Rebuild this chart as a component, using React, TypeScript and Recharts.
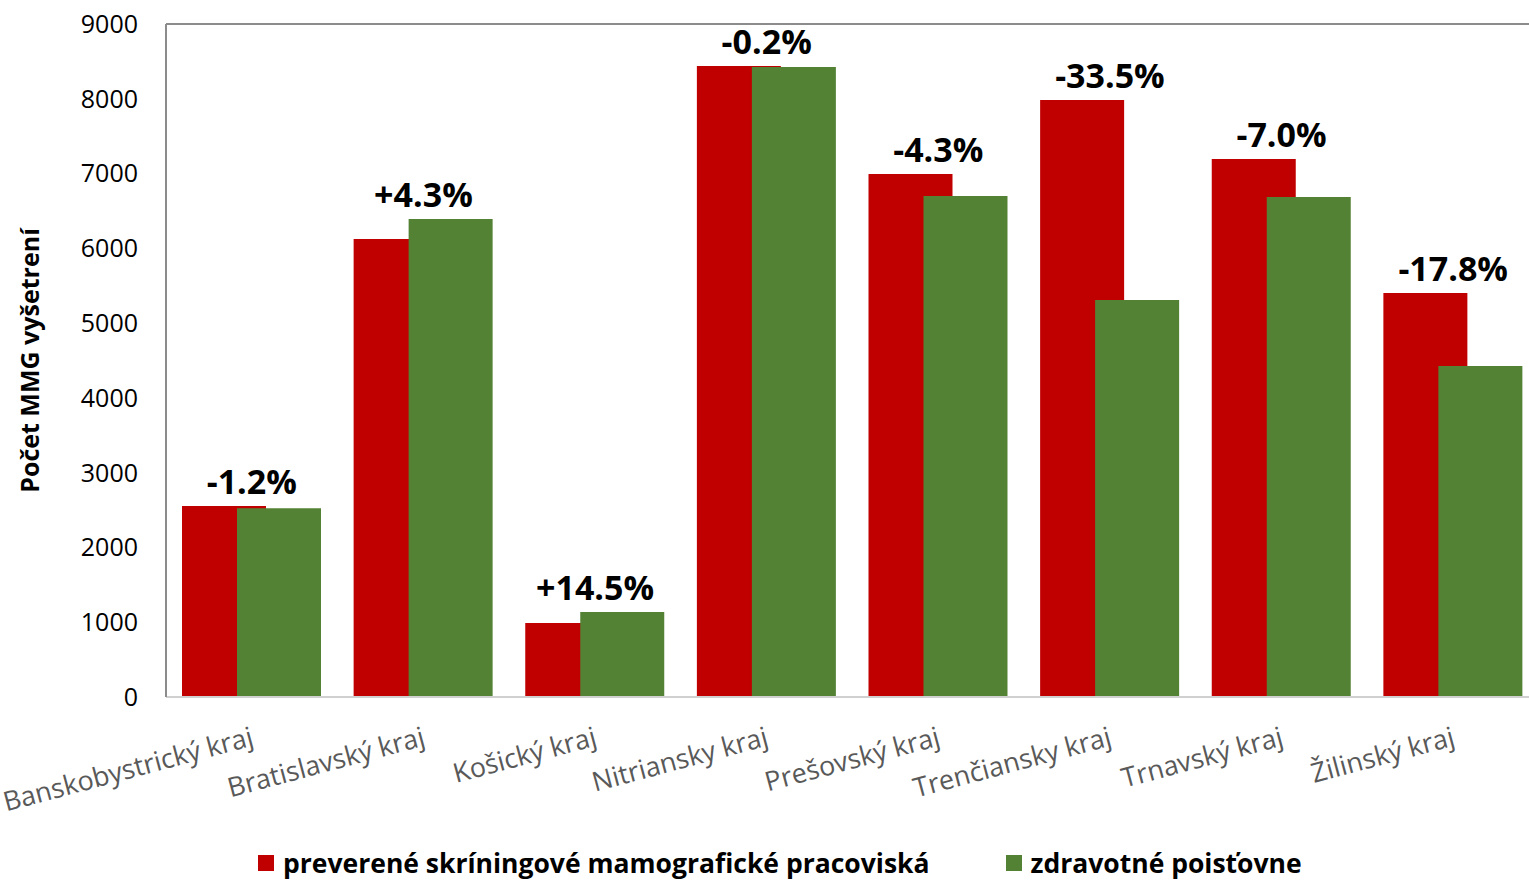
import { Bar, ComposedChart, LabelList, Legend, Line, ReferenceLine, XAxis, YAxis } from "recharts"

const categories = [
  "Banskobystrický kraj",
  "Bratislavský kraj",
  "Košický kraj",
  "Nitriansky kraj",
  "Prešovský kraj",
  "Trenčiansky kraj",
  "Trnavský kraj",
  "Žilinský kraj",
]
const screening = [2553, 6125, 990, 8438, 6994, 7984, 7195, 5403]
const insurers = [2523, 6392, 1137, 8425, 6700, 5309, 6686, 4426]
const changeLabels = ["-1.2%", "+4.3%", "+14.5%", "-0.2%", "-4.3%", "-33.5%", "-7.0%", "-17.8%"]
const yTicks = [0, 1000, 2000, 3000, 4000, 5000, 6000, 7000, 8000, 9000]

const data = categories.map((name, i) => ({
  name,
  screening: screening[i],
  insurers: insurers[i],
  change: changeLabels[i],
}))

const FONT = "'Open Sans', sans-serif"
const RED = "#C00000"
const GREEN = "#548235"

function XTick({ x, y, payload }: any) {
  const ax = x + 3
  const ay = y + 40
  return (
    <text
      x={ax}
      y={ay}
      transform={`rotate(-15 ${ax} ${ay})`}
      textAnchor="end"
      fontFamily={FONT}
      fontSize={27}
      fill="#595959"
    >
      {payload.value}
    </text>
  )
}

function ChangeLabel({ x, y, value }: any) {
  return (
    <text x={x} y={y - 12} textAnchor="middle" fontFamily={FONT} fontSize={34} fontWeight="bold" fill="#000">
      {value}
    </text>
  )
}

function LegendContent() {
  const items = [
    { label: "preverené skríningové mamografické pracoviská", color: RED },
    { label: "zdravotné poisťovne", color: GREEN },
  ]
  return (
    <div style={{ display: "flex", justifyContent: "flex-start", paddingLeft: 258, gap: 76, fontFamily: FONT }}>
      {items.map((it) => (
        <div key={it.label} style={{ display: "flex", alignItems: "center" }}>
          <span style={{ width: 16, height: 16, background: it.color, display: "inline-block", marginRight: 9 }} />
          <span style={{ fontSize: 26.5, lineHeight: "28px", fontWeight: "bold", color: "#000" }}>{it.label}</span>
        </div>
      ))}
    </div>
  )
}

export default function App() {
  return (
    <div style={{ position: "absolute", left: 0, top: 0, width: 1529, height: 880, overflow: "hidden", background: "#fff" }}>
      <ComposedChart
        width={1540}
        height={880}
        data={data}
        margin={{ top: 24, right: 1, left: 0, bottom: 0 }}
        barCategoryGap={16}
        barGap={-29}
      >
        <XAxis
          dataKey="name"
          height={183}
          interval={0}
          tickLine={false}
          axisLine={{ stroke: "#d0d0d0", strokeWidth: 2 }}
          tick={<XTick />}
        />
        <YAxis
          width={166}
          domain={[0, 9000]}
          ticks={yTicks}
          interval={0}
          tickLine={false}
          tickSize={0}
          tickMargin={28}
          axisLine={{ stroke: "#8c8c8c", strokeWidth: 2 }}
          tick={{ fontFamily: FONT, fontSize: 25, fill: "#000" }}
          label={{
            value: "Počet MMG vyšetrení",
            angle: -90,
            position: "insideLeft",
            offset: 30,
            style: { fontFamily: FONT, fontSize: 25, fontWeight: "bold", fill: "#000", textAnchor: "middle" },
          }}
        />
        <ReferenceLine y={9000} stroke="#8c8c8c" strokeWidth={2} />
        <Bar dataKey="screening" name="preverené skríningové mamografické pracoviská" fill={RED} isAnimationActive={false} />
        <Bar dataKey="insurers" name="zdravotné poisťovne" fill={GREEN} isAnimationActive={false} />
        <Line
          dataKey={(d: any) => Math.max(d.screening, d.insurers)}
          stroke="none"
          dot={false}
          activeDot={false}
          legendType="none"
          isAnimationActive={false}
        >
          <LabelList dataKey="change" content={<ChangeLabel />} />
        </Line>
        <Legend
          verticalAlign="middle"
          align="center"
          layout="horizontal"
          content={<LegendContent />}
          wrapperStyle={{ top: 849, left: 0, width: 1529 }}
        />
      </ComposedChart>
    </div>
  )
}
